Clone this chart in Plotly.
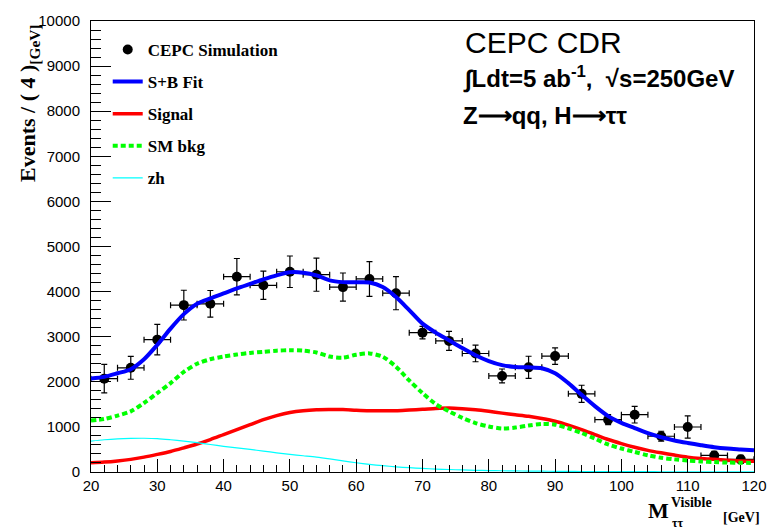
import plotly.graph_objects as go

# ---------------- data ----------------
bin_centers = [22, 26, 30, 34, 38, 42, 46, 50, 54, 58, 62, 66, 70, 74, 78, 82, 86, 90, 94, 98, 102, 106, 110, 114, 118]
events = [2070, 2310, 2935, 3700, 3730, 4330, 4140, 4440, 4375, 4100, 4280, 3965, 3090, 2907, 2628, 2130, 2320, 2570, 1733, 1160, 1270, 793, 998, 367, 280]
events_err = [316, 253, 338, 330, 294, 404, 312, 349, 367, 312, 385, 367, 140, 209, 183, 154, 246, 183, 191, 110, 183, 110, 246, 92, 90]
bin_half_width = [2] * len(bin_centers)

curve_x = [20, 22, 24, 26, 28, 30, 32, 34, 36, 38, 40, 42, 44, 46, 48, 50, 52, 54, 56, 58, 60,
           62, 64, 66, 68, 70, 72, 74, 76, 78, 80, 82, 84, 86, 88, 90, 92, 94, 96, 98, 100,
           102, 104, 106, 108, 110, 112, 114, 116, 118, 120]
sb_fit = [2075, 2110, 2190, 2280, 2500, 2820, 3180, 3500, 3730, 3850, 3960, 4070, 4170, 4270, 4360, 4430, 4420, 4360, 4250, 4210, 4205,
          4200, 4100, 3880, 3590, 3290, 3090, 2920, 2750, 2590, 2460, 2370, 2330, 2320, 2300, 2190, 1970, 1710, 1460, 1240, 1090,
          975, 860, 770, 700, 645, 595, 550, 520, 500, 480]
signal = [205, 220, 245, 280, 330, 390, 455, 535, 620, 720, 830, 940, 1050, 1160, 1250, 1320, 1360, 1380, 1385, 1385, 1370,
          1360, 1360, 1360, 1375, 1390, 1410, 1420, 1405, 1380, 1345, 1305, 1270, 1235, 1185, 1125, 1040, 940, 830, 720, 630,
          550, 480, 425, 375, 330, 300, 280, 260, 245, 240]
sm_bkg = [1140, 1175, 1250, 1345, 1530, 1750, 1970, 2220, 2400, 2500, 2560, 2605, 2640, 2665, 2690, 2700, 2690, 2650, 2560, 2535, 2600,
          2630, 2555, 2335, 2030, 1750, 1505, 1345, 1200, 1085, 1010, 965, 985, 1030, 1065, 1050, 970, 865, 740, 610, 520,
          445, 370, 315, 280, 255, 235, 220, 210, 205, 200]
zh = [685, 715, 735, 745, 748, 740, 715, 685, 650, 610, 570, 535, 500, 465, 425, 390, 360, 330, 290, 245, 205,
      170, 140, 115, 95, 80, 65, 55, 45, 38, 32, 28, 24, 21, 18, 15, 13, 11, 10, 9, 8,
      7, 7, 6, 6, 5, 5, 5, 5, 5, 5]

# ---------------- layout geometry ----------------
W, H = 779, 530
L, R, T, B = 91, 14, 16, 58
PW, PH = W - L - R, H - T - B

def px(x):
    return (x - L) / PW

def py(y):
    return (H - B - y) / PH

SERIF = "Liberation Serif"
SANS = "Liberation Sans"

fig = go.Figure()

fig.add_trace(go.Scatter(
    x=bin_centers, y=events, mode="markers", name="CEPC Simulation",
    marker=dict(color="black", size=10, symbol="circle"),
    error_x=dict(type="data", array=bin_half_width, color="black", thickness=1.2, width=3),
    error_y=dict(type="data", array=events_err, color="black", thickness=1.2, width=3),
    legendgroup="a",
))
fig.add_trace(go.Scatter(
    x=curve_x, y=sb_fit, mode="lines", name="S+B Fit",
    line=dict(color="#0000ff", width=4, shape="spline", smoothing=0.8), legendgroup="b",
))
fig.add_trace(go.Scatter(
    x=curve_x, y=signal, mode="lines", name="Signal",
    line=dict(color="#ff0000", width=3.5, shape="spline", smoothing=0.8), legendgroup="c",
))
fig.add_trace(go.Scatter(
    x=curve_x, y=sm_bkg, mode="lines", name="SM bkg",
    line=dict(color="#00ff00", width=4, dash="5px,3px", shape="spline", smoothing=0.8), legendgroup="d",
))
fig.add_trace(go.Scatter(
    x=curve_x, y=zh, mode="lines", name="zh",
    line=dict(color="#00ffff", width=1.2, shape="spline", smoothing=0.8), legendgroup="e",
))

axis_common = dict(
    showgrid=False, zeroline=False, showline=True, linecolor="black", linewidth=1, mirror=True,
    ticks="inside", tickcolor="black", tickwidth=1,
    tickfont=dict(family=SANS, size=15, color="black"),
)

fig.update_xaxes(range=[20, 120], tick0=20, dtick=10, ticklen=13,
                 minor=dict(ticks="inside", dtick=2, ticklen=7, tickcolor="black", tickwidth=1),
                 **axis_common)
fig.update_yaxes(range=[0, 10000], tick0=0, dtick=1000, ticklen=20, tickformat="d",
                 ticklabelstandoff=7,
                 minor=dict(ticks="inside", dtick=200, ticklen=10, tickcolor="black", tickwidth=1),
                 **axis_common)

annotations = [
    # y axis title
    dict(text="<b>Events / ( 4 )</b><sub><b>[GeV]</b></sub>", textangle=-90,
         x=px(28), y=py(17), xanchor="center", yanchor="top",
         font=dict(family=SERIF, size=22, color="black")),
    # x axis title pieces
    dict(text="<b>M</b>", x=px(655), y=py(511), xanchor="left", yanchor="middle",
         font=dict(family=SERIF, size=22, color="black")),
    dict(text="<b>Visible</b>", x=px(679), y=py(503), xanchor="left", yanchor="middle",
         font=dict(family=SERIF, size=14, color="black")),
    dict(text="<b>ττ</b>", x=px(680), y=py(524), xanchor="left", yanchor="middle",
         font=dict(family=SERIF, size=12, color="black")),
    dict(text="<b>[GeV]</b>", x=px(731), y=py(518), xanchor="left", yanchor="middle",
         font=dict(family=SERIF, size=14, color="black")),
    # top-right labels
    dict(text="CEPC CDR", x=px(469), y=py(38), xanchor="left", yanchor="middle",
         font=dict(family=SANS, size=30, color="black")),
    dict(text="<b>∫Ldt=5 ab<sup>-1</sup>,  √s=250GeV</b>", x=px(467), y=py(73), xanchor="left", yanchor="middle",
         font=dict(family=SANS, size=24, color="black")),
    dict(text="<b>Z⟶qq, H⟶ττ</b>", x=px(467), y=py(112), xanchor="left", yanchor="middle",
         font=dict(family=SANS, size=24, color="black")),
]
for a in annotations:
    a.update(xref="paper", yref="paper", showarrow=False)

fig.update_layout(
    width=W, height=H,
    margin=dict(l=L, r=R, t=T, b=B),
    paper_bgcolor="white", plot_bgcolor="white",
    annotations=annotations,
    showlegend=True,
    legend=dict(
        x=px(108), y=py(27), xanchor="left", yanchor="top",
        bgcolor="rgba(0,0,0,0)", borderwidth=0,
        font=dict(family=SERIF, size=17, color="black", weight="bold"),
        traceorder="grouped", tracegroupgap=7, itemwidth=30,
    ),
)

fig.write_html("out.html")
